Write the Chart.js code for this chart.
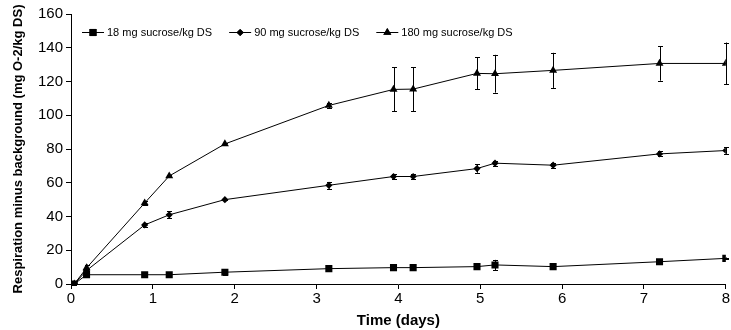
<!DOCTYPE html>
<html>
<head>
<meta charset="utf-8">
<script src="https://cdn.jsdelivr.net/npm/chart.js@4.4.1/dist/chart.umd.min.js"></script>
<style>
  html, body { margin: 0; padding: 0; background: #fff; }
</style>
</head>
<body>
<canvas id="chart" width="731" height="330"></canvas>
<script>
// sampling times (days), same for all three treatments
const days = [0.04, 0.19, 0.9, 1.2, 1.88, 3.15, 3.94, 4.18, 4.96, 5.18, 5.89, 7.19, 8];

const seriesLabels = ["18 mg sucrose/kg DS", "90 mg sucrose/kg DS", "180 mg sucrose/kg DS"];

// respiration minus background (mg O-2/kg DS)
const resp18 = [0, 5.5, 5.5, 5.5, 7, 9.1, 9.7, 9.7, 10.3, 11.3, 10.3, 13.2, 15.2];
const err18 = [0.3, 1.5, 1.2, 0.5, 1.5, 0.5, 0.5, 0.5, 0.5, 3, 0.5, 0.5, 0.5];

const resp90 = [0, 8, 35, 41, 50, 58.5, 63.7, 63.7, 68.4, 71.6, 70.4, 77.1, 79.1];
const err90 = [0.3, 1, 1, 2, 0.5, 2, 1.5, 1.5, 2.5, 1.5, 1.5, 1.5, 2];

const resp180 = [0, 9.5, 48, 64, 83, 105.8, 115.3, 115.5, 124.8, 124.6, 126.6, 130.7, 130.7];
const err180 = [0.3, 2, 1, 0.5, 0.5, 1.5, 13, 13, 9.5, 11.2, 10.4, 10.2, 12.4];

const yTicks = [0, 20, 40, 60, 80, 100, 120, 140, 160];
const xTicks = [0, 1, 2, 3, 4, 5, 6, 7, 8];

const FONT = "Arial, 'Liberation Sans', sans-serif";

function toPoints(ys) {
    return days.map((d, i) => ({ x: d, y: ys[i] }));
}

const markerStyles = [
    { pointStyle: "rect", radius: 5 },
    { pointStyle: "rectRot", radius: 3.6 },
    { pointStyle: "triangle", radius: 4.6 }
];

const errors = [err18, err90, err180];

// vertical error bars, drawn through the chart's own y scale
const errorBars = {
    id: "errorBars",
    afterDatasetsDraw(chart) {
        const ctx = chart.ctx;
        const yScale = chart.scales.y;
        ctx.save();
        ctx.strokeStyle = "#000";
        ctx.lineWidth = 1;
        chart.data.datasets.forEach((ds, i) => {
            const meta = chart.getDatasetMeta(i);
            meta.data.forEach((pt, j) => {
                const e = errors[i][j];
                const v = ds.data[j].y;
                const top = yScale.getPixelForValue(v + e);
                const bot = yScale.getPixelForValue(v - e);
                const x = Math.round(pt.x) + 0.5;
                ctx.beginPath();
                ctx.moveTo(x, top);
                ctx.lineTo(x, bot);
                ctx.moveTo(x - 2.5, Math.round(top) + 0.5);
                ctx.lineTo(x + 2.5, Math.round(top) + 0.5);
                ctx.moveTo(x - 2.5, Math.round(bot) + 0.5);
                ctx.lineTo(x + 2.5, Math.round(bot) + 0.5);
                ctx.stroke();
            });
        });
        ctx.restore();
    }
};

// legend inside the plot, line + marker like the original
const insideLegend = {
    id: "insideLegend",
    afterDraw(chart) {
        const ctx = chart.ctx;
        ctx.save();
        ctx.font = "11px " + FONT;
        ctx.textBaseline = "middle";
        ctx.fillStyle = "#000";
        ctx.strokeStyle = "#000";
        ctx.lineWidth = 1;
        let x = 82;
        const y = 32;
        chart.data.datasets.forEach((ds, i) => {
            ctx.beginPath();
            ctx.moveTo(x, y + 0.5);
            ctx.lineTo(x + 22, y + 0.5);
            ctx.stroke();
            Chart.helpers.drawPoint(ctx, {
                pointStyle: markerStyles[i].pointStyle,
                radius: markerStyles[i].radius,
                borderWidth: 0
            }, x + 11, y + 0.5);
            ctx.fill();
            ctx.fillText(ds.label, x + 25, y + 1);
            x += 25 + ctx.measureText(ds.label).width + 17;
        });
        ctx.restore();
    }
};

const datasets = [resp18, resp90, resp180].map((vals, i) => ({
    label: seriesLabels[i],
    data: toPoints(vals),
    borderColor: "#000",
    backgroundColor: "#000",
    borderWidth: 1,
    pointStyle: markerStyles[i].pointStyle,
    pointRadius: markerStyles[i].radius,
    pointBorderWidth: 0,
    pointBackgroundColor: "#000",
    tension: 0
}));

new Chart(document.getElementById("chart"), {
    type: "line",
    data: { datasets: datasets },
    options: {
        responsive: false,
        animation: false,
        devicePixelRatio: 1,
        layout: { padding: { top: 14, right: 5, left: 0, bottom: 0 } },
        plugins: {
            legend: { display: false },
            tooltip: { enabled: false }
        },
        scales: {
            x: {
                type: "linear",
                min: 0,
                max: 8,
                afterFit: (s) => { s.height = 46; },
                afterBuildTicks: (s) => { s.ticks = xTicks.map(v => ({ value: v })); },
                grid: { drawOnChartArea: false, color: "#000", tickLength: 5 },
                border: { color: "#000" },
                ticks: { color: "#000", font: { family: FONT, size: 15 }, padding: 1, maxRotation: 0 },
                title: {
                    display: true,
                    text: "Time (days)",
                    color: "#000",
                    font: { family: FONT, size: 15, weight: "bold" },
                    padding: { top: 0, bottom: 0 }
                }
            },
            y: {
                min: 0,
                max: 160,
                afterFit: (s) => { s.width = 71; },
                afterBuildTicks: (s) => { s.ticks = yTicks.map(v => ({ value: v })); },
                grid: { drawOnChartArea: false, color: "#000", tickLength: 5 },
                border: { color: "#000" },
                ticks: { color: "#000", font: { family: FONT, size: 15 }, padding: 3 },
                title: {
                    display: true,
                    text: "Respiration minus background (mg O-2/kg DS)",
                    color: "#000",
                    font: { family: FONT, size: 13, weight: "bold" },
                    padding: { top: 11, bottom: 0 }
                }
            }
        }
    },
    plugins: [errorBars, insideLegend]
});
</script>
</body>
</html>
